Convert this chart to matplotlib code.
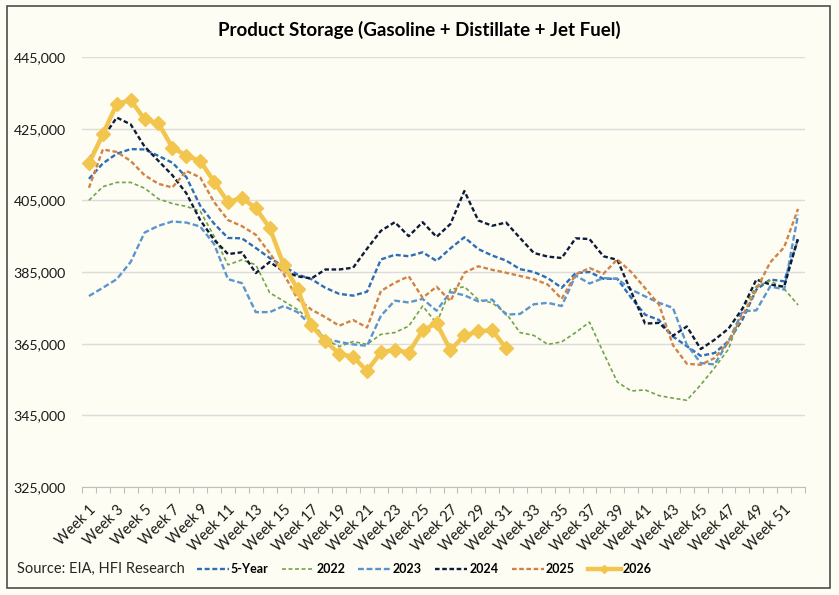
import matplotlib
matplotlib.use("Agg")
import matplotlib.pyplot as plt
from matplotlib.lines import Line2D
from matplotlib.patches import Rectangle
from matplotlib.ticker import FuncFormatter, FixedLocator
import numpy as np

plt.rcParams['font.family'] = ['Lato', 'DejaVu Sans']
plt.rcParams['lines.scale_dashes'] = False

title = "Product Storage (Gasoline + Distillate + Jet Fuel)"
source = "Source: EIA, HFI Research"

weeks = list(range(1, 53))
week_labels = [f"Week {w}" for w in weeks]
y_ticks = [325000, 345000, 365000, 385000, 405000, 425000, 445000]

five_year = [411.0, 415.3, 418.0, 419.3, 419.2, 417.4, 415.5, 411.5, 403.5, 398.5,
             394.5, 394.4, 391.7, 388.9, 386.6, 384.3, 383.0, 380.6, 378.9, 378.4,
             379.5, 388.5, 389.8, 389.4, 390.5, 388.1, 391.6, 394.7, 391.4, 389.6,
             388.2, 385.8, 385.0, 383.3, 380.6, 384.7, 385.0, 383.1, 383.1, 377.8,
             373.1, 371.6, 367.0, 364.3, 361.6, 362.4, 365.7, 371.7, 380.1, 382.9,
             382.4, 394.0]
y2022 = [405.0, 408.8, 410.0, 410.0, 408.4, 405.4, 404.1, 403.3, 402.0, 395.0,
         387.0, 388.4, 387.0, 379.2, 376.9, 374.5, 371.3, 366.2, 364.2, 365.6,
         364.8, 367.6, 368.1, 369.9, 375.5, 370.7, 380.1, 380.9, 377.3, 376.4,
         373.5, 368.1, 367.3, 364.8, 365.5, 368.1, 371.0, 362.5, 354.3, 351.8,
         352.1, 350.5, 349.8, 349.2, 353.5, 358.3, 363.5, 374.5, 381.0, 382.6,
         380.3, 375.8]
y2023 = [378.3, 380.6, 383.0, 387.8, 396.0, 397.9, 399.1, 398.8, 397.7, 392.8,
         383.0, 381.9, 373.8, 373.8, 375.5, 373.8, 370.0, 366.4, 365.5, 364.8,
         364.4, 372.8, 377.0, 376.5, 377.5, 374.2, 379.4, 378.5, 376.8, 377.3,
         373.1, 373.3, 376.0, 376.4, 375.5, 384.0, 381.8, 383.3, 383.1, 380.1,
         378.2, 376.4, 375.0, 364.7, 359.6, 359.2, 365.7, 374.0, 374.3, 381.0,
         380.1, 401.0]
y2024 = [416.5, 422.5, 428.1, 426.2, 420.0, 416.0, 412.0, 407.0, 399.5, 394.0,
         390.0, 390.5, 384.7, 387.8, 385.2, 383.8, 383.2, 385.7, 385.7, 386.2,
         391.5, 396.5, 398.9, 395.0, 398.9, 394.8, 398.4, 407.6, 399.4, 397.9,
         398.8, 394.5, 390.3, 389.3, 388.9, 394.4, 394.2, 389.4, 388.4, 379.5,
         370.6, 370.8, 367.2, 369.8, 363.5, 366.1, 369.2, 374.8, 382.9, 381.5,
         380.9, 394.5]
y2025 = [408.5, 419.2, 418.5, 416.0, 412.0, 409.6, 408.6, 413.2, 411.4, 404.5,
         399.5, 397.8, 395.4, 390.3, 384.5, 377.5, 374.5, 372.4, 370.0, 371.6,
         369.5, 379.7, 382.0, 383.8, 377.8, 380.9, 376.9, 384.8, 386.6, 385.6,
         384.8, 383.9, 383.0, 381.5, 377.5, 384.3, 386.1, 384.5, 388.5, 385.0,
         380.5, 375.9, 364.6, 359.4, 359.1, 361.0, 365.5, 372.8, 380.1, 387.7,
         391.9, 402.6]
y2026 = [415.3, 423.4, 431.9, 433.0, 427.6, 426.5, 419.7, 417.5, 416.0, 410.2,
         404.5, 405.7, 402.8, 397.3, 387.0, 380.3, 370.1, 365.7, 362.2, 361.3,
         357.4, 362.6, 363.3, 362.5, 368.7, 370.7, 363.2, 367.3, 368.4, 368.8,
         363.7]

series = [
    ("5-Year", five_year, "#2F6DB5", 1.7, (0, (3.6, 1.9))),
    ("2022", y2022, "#70A34B", 1.2, (0, (2.8, 1.9))),
    ("2023", y2023, "#5B95CF", 1.7, (0, (4.2, 2.0))),
    ("2024", y2024, "#0E1B3A", 1.7, (0, (3.3, 1.9))),
    ("2025", y2025, "#CF8348", 1.7, (0, (3.3, 1.9))),
]
c2026 = "#F2C54F"

bg = "#FEFDF3"
fig = plt.figure(figsize=(8.39, 5.95), dpi=100, facecolor=bg)
ax = fig.add_axes([82/839, 1-487/595, 723/839, 430/595], facecolor=bg)

handles = []
for name, vals, col, lw, ls in series:
    x = weeks[:len(vals)]
    v = np.array(vals) * 1000
    ax.plot(x, v, color=col, lw=lw, linestyle=ls, zorder=3)
    handles.append(Line2D([], [], color=col, lw=lw, linestyle=ls, label=name))

ax.plot(weeks[:len(y2026)], np.array(y2026) * 1000, color=c2026, lw=3.2,
        marker="D", markersize=7.5, markeredgecolor=c2026, zorder=5)
handles.append(Line2D([], [], color=c2026, lw=3.2, marker="D", markersize=4.5,
                      label="2026"))

ax.set_xlim(0.5, 52.5)
ax.set_ylim(325000, 445000)
ax.yaxis.set_major_locator(FixedLocator(y_ticks))
ax.yaxis.set_major_formatter(FuncFormatter(lambda v, p: f"{int(v):,}"))
ax.grid(axis="y", color="#DCDCDC", lw=1.0, zorder=0)
ax.set_axisbelow(True)

ax.xaxis.set_major_locator(FixedLocator(weeks[::2]))
ax.set_xticklabels(week_labels[::2], rotation=45, ha="right", va="top",
                   rotation_mode="anchor", fontsize=10.5, color="#1a1a1a")
ax.xaxis.set_minor_locator(FixedLocator(np.arange(0.5, 53, 1)))
ax.tick_params(axis="x", which="major", length=0, pad=11)
ax.tick_params(axis="x", which="minor", length=4, color="#BFBFBF", width=0.8)
ax.tick_params(axis="y", length=0, labelsize=10.2, labelcolor="#1a1a1a", pad=11.5)

for s in ["top", "right", "left"]:
    ax.spines[s].set_visible(False)
ax.spines["bottom"].set_color("#BFBFBF")
ax.spines["bottom"].set_linewidth(0.8)

fig.text(0.5, 1-30/595, title, ha="center", va="center", fontsize=13.5,
         fontweight="bold", color="#000000")
fig.text(17/839, 1-569/595, source, ha="left", va="center", fontsize=10.5,
         color="#262626")

leg = fig.legend(handles=handles, loc="center", bbox_to_anchor=(424/839, 1-569/595),
                 ncol=6, frameon=False, handlelength=2.6, handletextpad=0.15,
                 columnspacing=1.05, prop={"weight": "bold", "size": 9})

fig.patches.append(Rectangle((7/839, 1-588/595), 823/839, 582/595,
                             transform=fig.transFigure, fill=False,
                             edgecolor="#4D4D4D", lw=1.2))

fig.savefig("out.png", dpi=100, facecolor=bg)
